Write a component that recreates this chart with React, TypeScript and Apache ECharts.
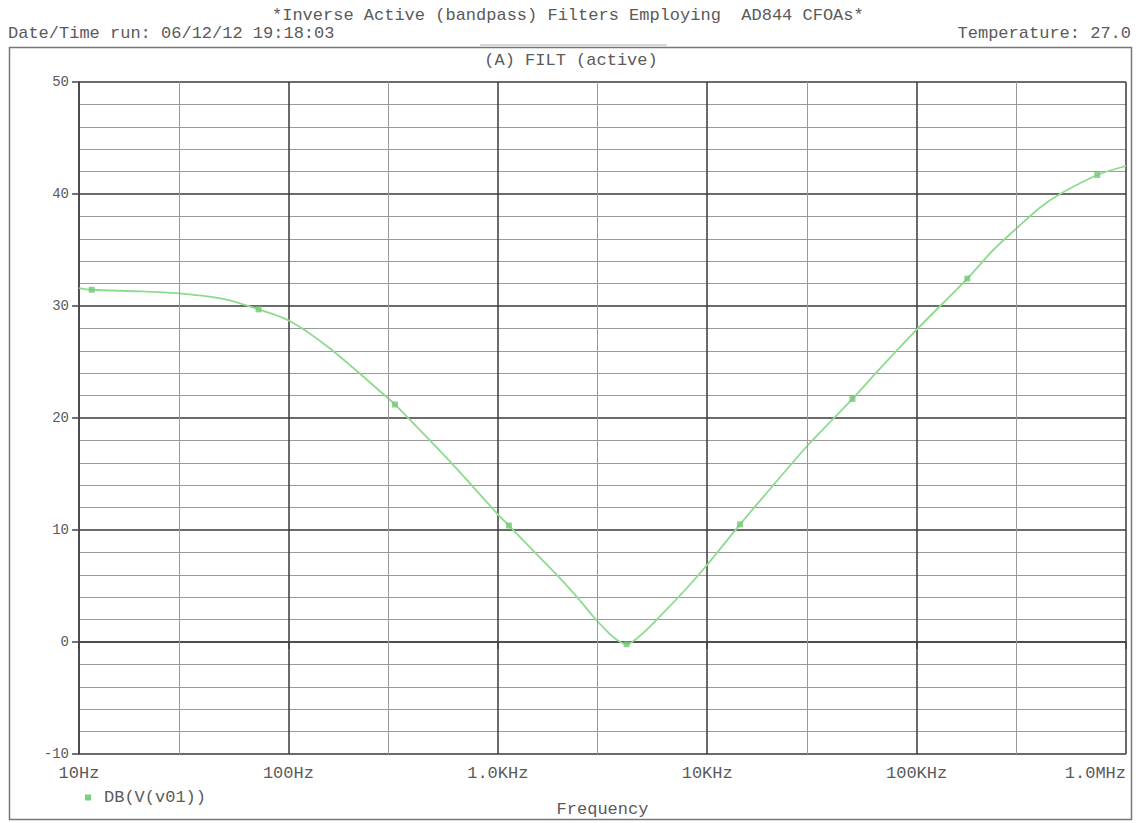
import React, { useEffect, useRef } from "react";
import * as echarts from "echarts";

// Frequency response of the inverse active bandpass filter (PSpice-style plot)
const freqHz = [
  10, 11.5, 20, 31, 50, 72, 103, 158, 302, 323,
  592, 1000, 1130, 1540, 1980, 2470, 2850, 3310, 3700, 4120,
  5010, 5960, 7980, 10000, 14350, 17860, 30000, 40300, 49400, 66800,
  99000, 174600, 232300, 302700, 389000, 484200, 729400, 1000000,
];
const gainDb = [
  31.6, 31.45, 31.3, 31.1, 30.6, 29.7, 28.6, 26.2, 21.7, 21.2,
  16.1, 11.4, 10.4, 7.8, 5.7, 3.7, 2.3, 1.0, 0.2, -0.2,
  0.9, 2.3, 4.8, 6.9, 10.5, 12.6, 17.5, 20.0, 21.7, 24.4,
  27.8, 32.45, 35.0, 37.0, 38.8, 40.0, 41.7, 42.5,
];

// Trace markers (every few samples, as the simulator draws them)
const markerFreq = [11.5, 72, 323, 1130, 4120, 14350, 49400, 174600, 729400];
const markerDb = [31.45, 29.7, 21.2, 10.4, -0.2, 10.5, 21.7, 32.45, 41.7];

// Decade tick labels and the extra grid lines between decades
const tickFreqs = [10, 100, 1000, 10000, 100000, 1000000];
const tickLabels = ["10Hz", "100Hz", "1.0KHz", "10KHz", "100KHz", "1.0MHz"];
const minorFreqs = [30, 300, 3000, 30000, 300000];

const traceName = "DB(V(v01))";
const titleText = "*Inverse Active (bandpass) Filters Employing  AD844 CFOAs*";
const dateText = "Date/Time run: 06/12/12 19:18:03";
const tempText = "Temperature: 27.0";
const sectionText = "(A) FILT (active)";

const mono = '"Liberation Mono", "DejaVu Sans Mono", monospace';
const textGray = "#5a5a5a";

function freqLabel(v: number): string {
  const lv = Math.log10(v);
  for (let i = 0; i < tickFreqs.length; i++) {
    if (Math.abs(lv - Math.log10(tickFreqs[i])) < 1e-6) return tickLabels[i];
  }
  return "";
}

export default function App() {
  const ref = useRef<HTMLDivElement>(null);

  useEffect(() => {
    const chart = echarts.init(ref.current!, null, { renderer: "svg" });
    chart.setOption({
      animation: false,
      backgroundColor: "#ffffff",
      grid: { left: 79, top: 82, right: 16, bottom: 66, containLabel: false },
      legend: {
        data: [{ name: traceName, icon: "rect" }],
        left: 80,
        top: 784,
        itemWidth: 6,
        itemHeight: 6,
        selectedMode: false,
        textStyle: { fontFamily: mono, fontSize: 17, color: textGray, padding: [0, 0, 0, 8] },
      },
      xAxis: {
        type: "log",
        logBase: 10,
        min: 10,
        max: 1000000,
        name: "Frequency",
        nameLocation: "middle",
        nameGap: 47,
        nameTextStyle: { fontFamily: mono, fontSize: 17, color: textGray },
        axisLine: { show: true, lineStyle: { color: "#444", width: 1.5 } },
        axisTick: { show: true, inside: false, length: 7, lineStyle: { color: "#444", width: 1.5 } },
        axisLabel: {
          formatter: (v: number) => freqLabel(v),
          fontFamily: mono,
          fontSize: 17,
          color: textGray,
          margin: 11,
          alignMaxLabel: "right",
          showMinLabel: true,
          showMaxLabel: true,
        },
        splitLine: { show: true, lineStyle: { color: "#3a3a3a", width: 1.5 } },
      },
      yAxis: {
        type: "value",
        min: -10,
        max: 50,
        interval: 10,
        axisLine: { show: true, lineStyle: { color: "#444", width: 1.5 } },
        axisTick: { show: true, inside: false, length: 7, lineStyle: { color: "#444", width: 1.5 } },
        axisLabel: { fontFamily: mono, fontSize: 14, color: textGray, margin: 10 },
        splitLine: { show: true, lineStyle: { color: "#3a3a3a", width: 1.5 } },
        minorTick: { show: false, splitNumber: 5 },
        minorSplitLine: { show: true, lineStyle: { color: "#9a9a9a", width: 1 } },
      },
      series: [
        {
          // intermediate vertical grid lines
          name: "grid",
          type: "line",
          data: [],
          z: 1,
          silent: true,
          markLine: {
            silent: true,
            symbol: ["none", "none"],
            label: { show: false },
            lineStyle: { color: "#9a9a9a", width: 1, type: "solid" },
            data: minorFreqs.map((f) => ({ xAxis: f })),
          },
        },
        {
          name: traceName,
          type: "line",
          smooth: 0.3,
          showSymbol: false,
          symbol: "rect",
          z: 3,
          lineStyle: { color: "#8ddb8d", width: 1.8 },
          itemStyle: { color: "#7acf7a" },
          data: freqHz.map((f, i) => [f, gainDb[i]]),
        },
        {
          name: "markers",
          type: "scatter",
          symbol: "rect",
          symbolSize: 6,
          z: 4,
          itemStyle: { color: "#74c874" },
          data: markerFreq.map((f, i) => [f, markerDb[i]]),
        },
      ],
      graphic: [
        {
          type: "rect",
          shape: { x: 9.5, y: 47.5, width: 1122, height: 772 },
          style: { fill: "none", stroke: "#777", lineWidth: 1.5 },
        },
        {
          type: "line",
          shape: { x1: 480, y1: 45, x2: 667, y2: 45 },
          style: { stroke: "#b0b0b0", lineWidth: 1 },
        },
        {
          type: "text",
          x: 272,
          y: 15,
          style: { text: titleText, font: `17px ${mono}`, fill: textGray, align: "left", verticalAlign: "middle" },
        },
        {
          type: "text",
          x: 8,
          y: 33,
          style: { text: dateText, font: `17px ${mono}`, fill: textGray, align: "left", verticalAlign: "middle" },
        },
        {
          type: "text",
          x: 1131,
          y: 33,
          style: { text: tempText, font: `17px ${mono}`, fill: textGray, align: "right", verticalAlign: "middle" },
        },
        {
          type: "text",
          x: 571,
          y: 60,
          style: { text: sectionText, font: `17px ${mono}`, fill: textGray, align: "center", verticalAlign: "middle" },
        },
      ],
    });
    return () => chart.dispose();
  }, []);

  return (
    <div
      ref={ref}
      style={{ position: "fixed", left: 0, top: 0, width: 1142, height: 823, background: "#fff" }}
    />
  );
}
